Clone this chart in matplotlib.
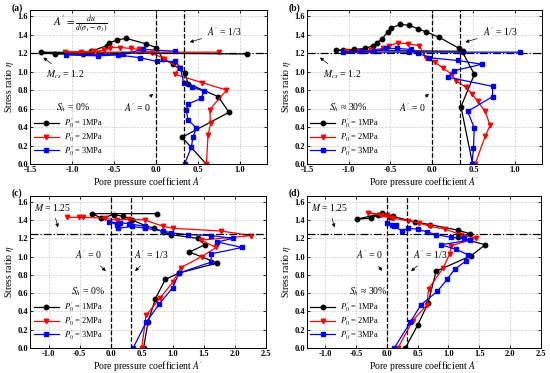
import numpy as np
import matplotlib
matplotlib.use("Agg")
import matplotlib.pyplot as plt

plt.rcParams['font.family'] = ['Liberation Serif', 'DejaVu Serif']
plt.rcParams['mathtext.fontset'] = 'stix'

# ---- data: pore pressure coefficient A' vs stress ratio eta ----
# (a) Sh = 0%
a_A_1 = [0.60, 0.31, 0.87, 0.74, 0.38, 0.35, 0.20, 0.08, 0.00, -0.12, -0.36, -0.47, -0.56, -0.59, -0.77, -0.87, -1.21, -1.37, 1.09]
a_e_1 = [0.00, 0.29, 0.56, 0.73, 0.87, 0.98, 1.08, 1.14, 1.26, 1.30, 1.36, 1.34, 1.31, 1.28, 1.22, 1.19, 1.19, 1.21, 1.19]
a_A_2 = [0.60, 0.62, 0.65, 0.64, 0.84, 0.55, 0.23, 0.27, 0.10, -0.05, -0.20, -0.30, -0.43, -0.55, -0.62, -0.75, -0.90, -1.08, 0.75]
a_e_2 = [0.00, 0.31, 0.44, 0.59, 0.80, 0.88, 0.97, 1.04, 1.14, 1.20, 1.24, 1.25, 1.26, 1.26, 1.23, 1.22, 1.21, 1.21, 1.21]
a_A_3 = [0.34, 0.42, 0.44, 0.48, 0.38, 0.36, 0.38, 0.54, 0.57, 0.43, 0.33, 0.29, 0.23, 0.01, -0.19, -0.45, -0.69, -1.07, -0.40, -0.15, 0.23]
a_e_3 = [0.00, 0.18, 0.29, 0.39, 0.48, 0.58, 0.65, 0.71, 0.79, 0.83, 0.88, 1.04, 1.11, 1.11, 1.15, 1.18, 1.17, 1.18, 1.19, 1.24, 1.22]

# (b) Sh = 30%
b_A_1 = [0.49, 0.35, 0.51, 0.37, 0.33, 0.09, -0.07, -0.16, -0.27, -0.38, -0.49, -0.53, -0.60, -0.66, -0.71, -0.80, -0.94, -1.07, -1.15, 0.37]
b_e_1 = [0.00, 0.62, 0.97, 1.21, 1.25, 1.37, 1.43, 1.46, 1.50, 1.51, 1.47, 1.43, 1.35, 1.31, 1.28, 1.25, 1.24, 1.23, 1.23, 1.22]
b_A_2 = [0.52, 0.64, 0.70, 0.64, 0.55, 0.48, 0.41, 0.29, 0.24, 0.13, 0.04, -0.07, -0.15, -0.29, -0.41, -0.51, -0.59, -0.73, -0.88, -1.03]
b_e_2 = [0.00, 0.30, 0.42, 0.57, 0.68, 0.76, 0.83, 0.90, 0.97, 1.04, 1.10, 1.15, 1.28, 1.30, 1.31, 1.28, 1.25, 1.23, 1.22, 1.22]
b_A_3 = [0.48, 0.50, 0.51, 0.43, 0.73, 0.73, 0.19, 0.27, 0.60, 0.31, -0.03, -0.16, -0.25, -0.42, -0.55, -0.70, -0.85, -1.07, -0.27, 1.06]
b_e_3 = [0.00, 0.17, 0.39, 0.57, 0.73, 0.84, 0.94, 1.01, 1.08, 1.12, 1.15, 1.20, 1.24, 1.25, 1.25, 1.22, 1.22, 1.21, 1.21, 1.21]

# (c) Sh = 0%
c_A_1 = [0.53, 0.60, 0.72, 0.88, 1.10, 1.72, 1.27, 1.52, 1.40, 0.97, 0.85, 0.70, 0.55, 0.35, 0.20, 0.05, -0.15, -0.30, 0.75]
c_e_1 = [0.00, 0.28, 0.54, 0.75, 0.82, 0.93, 1.05, 1.13, 1.20, 1.24, 1.27, 1.31, 1.34, 1.40, 1.44, 1.46, 1.42, 1.47, 1.47]
c_A_2 = [0.50, 0.57, 0.80, 1.00, 1.13, 1.47, 1.70, 1.45, 2.27, 1.78, 1.00, 0.85, 0.55, 0.30, 0.10, -0.10, -0.45, -0.52, -0.70]
c_e_2 = [0.00, 0.36, 0.55, 0.72, 0.88, 1.00, 1.10, 1.18, 1.23, 1.28, 1.31, 1.33, 1.40, 1.41, 1.40, 1.42, 1.43, 1.43, 1.43]
c_A_3 = [0.36, 0.57, 0.78, 1.00, 1.10, 1.62, 1.62, 2.12, 1.72, 1.97, 1.62, 1.25, 0.98, 0.85, 0.55, 0.35, 0.12, 0.10, -0.03, 0.15, 0.30, 0.55]
c_e_3 = [0.00, 0.28, 0.48, 0.66, 0.82, 0.94, 1.03, 1.10, 1.16, 1.20, 1.23, 1.24, 1.26, 1.28, 1.31, 1.33, 1.31, 1.35, 1.38, 1.37, 1.36, 1.33]

# (d) Sh = 30%
d_A_1 = [0.30, 0.50, 0.67, 0.80, 1.37, 1.60, 1.15, 1.35, 1.15, 0.70, 0.45, 0.10, -0.08, -0.25, -0.49, -0.15, 0.05]
d_e_1 = [0.00, 0.25, 0.49, 0.84, 1.01, 1.13, 1.21, 1.25, 1.29, 1.35, 1.38, 1.44, 1.48, 1.42, 1.41, 1.46, 1.43]
d_A_2 = [0.18, 0.42, 0.65, 0.68, 0.92, 1.02, 1.05, 1.45, 1.20, 0.95, 0.70, 0.52, 0.35, 0.10, 0.00, -0.10, -0.30, 0.08]
d_e_2 = [0.00, 0.30, 0.47, 0.65, 0.88, 1.03, 1.12, 1.20, 1.24, 1.30, 1.33, 1.37, 1.39, 1.42, 1.45, 1.46, 1.48, 1.42]
d_A_3 = [0.12, 0.38, 0.55, 0.82, 0.98, 1.10, 1.28, 1.32, 1.12, 0.88, 1.35, 1.25, 1.05, 0.80, 0.65, 0.50, 0.35, 0.25, 0.12, 0.08, 0.00, 0.15]
d_e_3 = [0.00, 0.28, 0.47, 0.62, 0.75, 0.86, 0.95, 1.02, 1.08, 1.13, 1.18, 1.20, 1.21, 1.24, 1.27, 1.30, 1.31, 1.28, 1.33, 1.35, 1.37, 1.35]

legend_labels = [r"$P_0^{\prime}$ = 1MPa", r"$P_0^{\prime}$ = 2MPa", r"$P_0^{\prime}$ = 3MPa"]
colors = ['black', 'red', 'blue']
markers = ['o', 'v', 's']

fig = plt.figure(figsize=(5.5, 3.73), dpi=100)
axes_pos = {
    'a': [0.055, 0.56, 0.43, 0.413],
    'b': [0.558, 0.56, 0.427, 0.413],
    'c': [0.055, 0.067, 0.428, 0.408],
    'd': [0.558, 0.067, 0.425, 0.408],
}
label_pos = {'a': (0.022, 0.99), 'b': (0.524, 0.99), 'c': (0.022, 0.495), 'd': (0.524, 0.495)}


def panel(key, series, xlim, xticks, eta_line, sh_text, upper, txt):
    ax = fig.add_axes(axes_pos[key])
    for (A, e), c, m, lab in zip(series, colors, markers, legend_labels):
        ax.plot(A, e, color=c, marker=m, ms=3.2, lw=0.9, label=lab)
    ax.axvline(0.0, color='black', ls='--', lw=0.9)
    ax.axvline(1/3, color='black', ls='--', lw=0.9)
    ax.axhline(eta_line, color='black', ls='-.', lw=0.9)
    ax.set_xlim(*xlim)
    ax.set_ylim(0, 1.665)
    ax.set_xticks(xticks)
    ax.set_yticks(np.arange(0, 1.61, 0.2))
    ax.xaxis.set_major_formatter(matplotlib.ticker.FormatStrFormatter('%.1f'))
    ax.yaxis.set_major_formatter(matplotlib.ticker.FormatStrFormatter('%.1f'))
    ax.grid(True, color='#cccccc', ls='--', lw=0.5)
    ax.tick_params(direction='in', length=2.5, width=0.6, labelsize=6, pad=1.5,
                   top=True, right=True)
    for t in ax.get_xticklabels() + ax.get_yticklabels():
        t.set_fontweight('bold')
    for s in ax.spines.values():
        s.set_linewidth(0.7)
    ax.set_xlabel("Pore pressure coefficient $A^{\\prime}$", fontsize=7, labelpad=0.5)
    ax.set_ylabel("Stress ratio $\\eta$", fontsize=7, labelpad=1)
    ax.legend(loc='lower left', bbox_to_anchor=(0.0, 0.02), frameon=False,
              fontsize=6, handlelength=3, labelspacing=0.0, borderaxespad=0.2,
              handletextpad=0.6, borderpad=0.2)
    fig.text(label_pos[key][0], label_pos[key][1], f"({key})", fontsize=7,
             fontweight='bold', va='top', ha='left')
    akw = dict(arrowstyle='-|>', color='black', lw=0.5, mutation_scale=5)
    fs = 7
    if upper:
        if key == 'a':
            ax.text(-1.23, 1.51, r"$A^{\prime} = \frac{du}{d(\sigma_1-\sigma_3)}$",
                    fontsize=8, va='center')
        ax.annotate(r"$A^{\prime}$ = 1/3", xy=(0.37, 1.31), xytext=(0.61, 1.43),
                    fontsize=fs, va='center', arrowprops=akw)
        ax.annotate(r"$M_{cs}$ = 1.2", xy=(-1.37, 1.17), xytext=(-1.31, 0.97),
                    fontsize=fs, va='center', arrowprops=akw)
        ax.annotate(r"$A^{\prime}$ = 0", xy=(-0.01, 0.78), xytext=(txt[0], 0.61),
                    fontsize=fs, va='center', arrowprops=akw)
        ax.text(txt[1], 0.61, sh_text, fontsize=fs, va='center')
    else:
        ax.annotate(r"$M$ = 1.25", xy=(-0.84, 1.29), xytext=(-1.24, 1.54),
                    fontsize=fs, va='center', arrowprops=akw)
        ax.annotate(r"$A^{\prime}$ = 0", xy=(-0.05, 0.82), xytext=(txt[0], 1.02),
                    fontsize=fs, va='center', arrowprops=akw)
        ax.annotate(r"$A^{\prime}$ = 1/3", xy=(0.36, 0.82), xytext=(txt[1], 1.02),
                    fontsize=fs, va='center', arrowprops=akw)
        ax.text(txt[2], 0.62, sh_text, fontsize=fs, va='center')
    return ax


xt_top = [-1.5, -1.0, -0.5, 0.0, 0.5, 1.0]
xt_bot = [-1.0, -0.5, 0.0, 0.5, 1.0, 1.5, 2.0, 2.5]

panel('a', [(a_A_1, a_e_1), (a_A_2, a_e_2), (a_A_3, a_e_3)], (-1.5, 1.32), xt_top, 1.2,
      r"$S_h$ = 0%", True, (-0.38, -1.19))
panel('b', [(b_A_1, b_e_1), (b_A_2, b_e_2), (b_A_3, b_e_3)], (-1.5, 1.32), xt_top, 1.2,
      r"$S_h$ ≈ 30%", True, (-0.39, -1.23))
panel('c', [(c_A_1, c_e_1), (c_A_2, c_e_2), (c_A_3, c_e_3)], (-1.3, 2.5), xt_bot, 1.25,
      r"$S_h$ = 0%", False, (-0.57, 0.38, -0.65))
panel('d', [(d_A_1, d_e_1), (d_A_2, d_e_2), (d_A_3, d_e_3)], (-1.3, 2.5), xt_bot, 1.25,
      r"$S_h$ ≈ 30%", False, (-0.50, 0.42, -0.61))

fig.savefig("out.png", dpi=100)
